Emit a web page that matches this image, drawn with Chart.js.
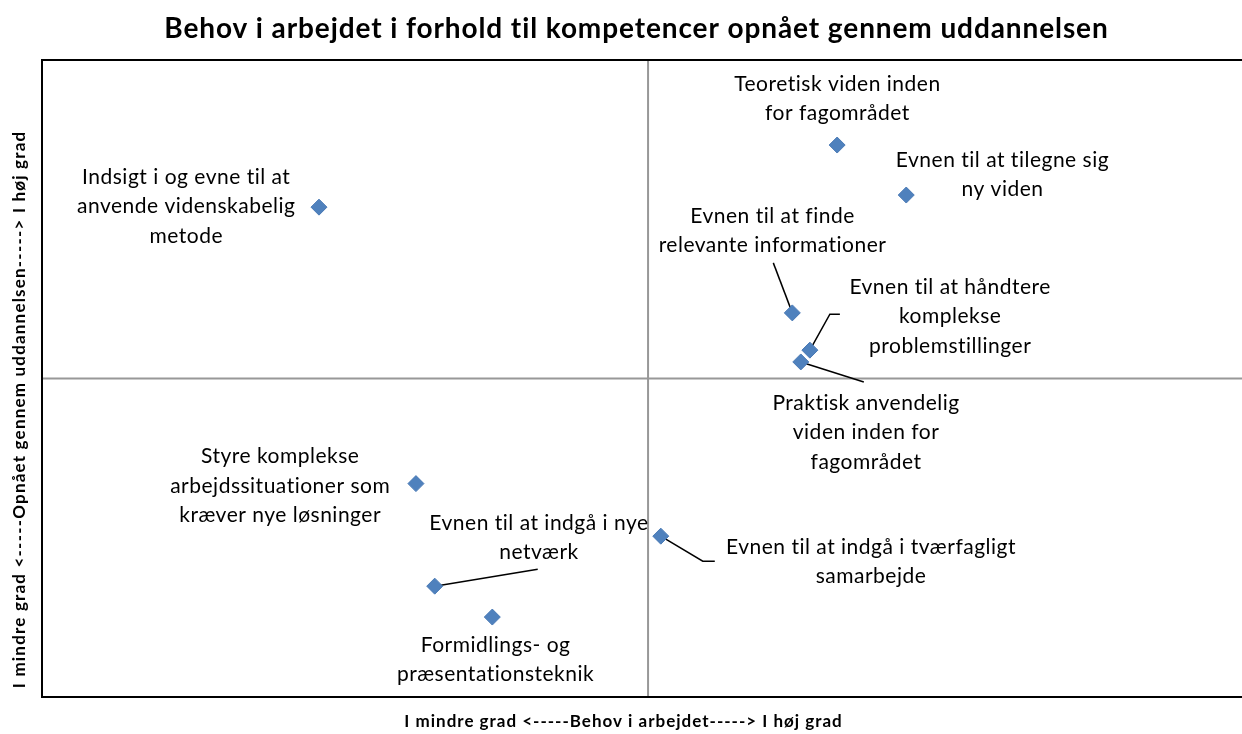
<!DOCTYPE html>
<html>
<head>
<meta charset="utf-8">
<script src="https://cdn.jsdelivr.net/npm/chart.js@4.4.0/dist/chart.umd.min.js"></script>
<style>
  html, body { margin: 0; padding: 0; background: #fff; overflow: hidden; }
  #wrap { width: 1242px; height: 734px; }
</style>
</head>
<body>
<div id="wrap"><canvas id="myChart" width="1242" height="734"></canvas></div>
<script>
// data
var chartTitle = 'Behov i arbejdet i forhold til kompetencer opnået gennem uddannelsen';
var xTitle = 'I mindre grad <-----Behov i arbejdet-----> I høj grad';
var yTitle = 'I mindre grad <-----Opnået gennem uddannelsen-----> I høj grad';

var labels = [
    ['Teoretisk viden inden', 'for fagområdet'],
    ['Evnen til at tilegne sig', 'ny viden'],
    ['Indsigt i og evne til at', 'anvende videnskabelig', 'metode'],
    ['Evnen til at finde', 'relevante informationer'],
    ['Evnen til at håndtere', 'komplekse', 'problemstillinger'],
    ['Praktisk anvendelig', 'viden inden for', 'fagområdet'],
    ['Styre komplekse', 'arbejdssituationer som', 'kræver nye løsninger'],
    ['Evnen til at indgå i tværfagligt', 'samarbejde'],
    ['Evnen til at indgå i nye', 'netværk'],
    ['Formidlings- og', 'præsentationsteknik']
];
var behovValues = [0.312, 0.426, -0.543, 0.238, 0.267, 0.252, -0.383, 0.021, -0.352, -0.257];
var opnaaetValues = [0.733, 0.576, 0.538, 0.206, 0.089, 0.052, -0.330, -0.495, -0.652, -0.749];

// label placement (pixels relative to the point): centre x, first line y, leader line points
var labelPlace = [
    { dx: 0, dy: -61, leader: null },
    { dx: 96, dy: -35, leader: null },
    { dx: -133, dy: -30, leader: null },
    { dx: -20, dy: -97, leader: [[-19, -50]] },
    { dx: 140, dy: -63, leader: [[20, -36], [30, -36]] },
    { dx: 65, dy: 41, leader: [[63, 20]] },
    { dx: -136, dy: -27, leader: null },
    { dx: 210, dy: 11, leader: [[42, 25], [54, 25]] },
    { dx: 104, dy: -63, leader: [[103, -17]] },
    { dx: 3, dy: 28, leader: null }
];

var points = behovValues.map(function (v, i) {
    return { x: v, y: opnaaetValues[i] };
});

function drawText(ctx, text, x, y, font, spacing) {
    ctx.font = font;
    ctx.letterSpacing = spacing + 'px';
    ctx.fillText(text, x + spacing / 2, y);
}

var quadrantPlugin = {
    id: 'quadrant',
    beforeDatasetsDraw: function (chart) {
        var ctx = chart.ctx;
        var area = chart.chartArea;
        var x0 = chart.scales.x.getPixelForValue(0);
        var y0 = chart.scales.y.getPixelForValue(0);
        ctx.save();
        ctx.strokeStyle = '#989898';
        ctx.lineWidth = 2;
        ctx.beginPath();
        ctx.moveTo(x0, area.top);
        ctx.lineTo(x0, area.bottom);
        ctx.moveTo(area.left, y0);
        ctx.lineTo(area.right, y0);
        ctx.stroke();

        // frame (right side runs off the picture)
        ctx.strokeStyle = '#000';
        ctx.lineWidth = 2;
        ctx.beginPath();
        ctx.moveTo(area.right + 5, area.top);
        ctx.lineTo(area.left, area.top);
        ctx.lineTo(area.left, area.bottom);
        ctx.lineTo(area.right + 5, area.bottom);
        ctx.stroke();

        // leader lines
        var meta = chart.getDatasetMeta(0);
        ctx.strokeStyle = '#000';
        ctx.lineWidth = 1.5;
        meta.data.forEach(function (pt, i) {
            var lp = labelPlace[i];
            if (!lp.leader) return;
            ctx.beginPath();
            ctx.moveTo(pt.x, pt.y);
            lp.leader.forEach(function (p) {
                ctx.lineTo(pt.x + p[0], pt.y + p[1]);
            });
            ctx.stroke();
        });
        ctx.restore();
    },
    afterDatasetsDraw: function (chart) {
        var ctx = chart.ctx;
        var meta = chart.getDatasetMeta(0);
        ctx.save();
        ctx.fillStyle = '#000';
        ctx.textAlign = 'center';
        ctx.textBaseline = 'middle';
        meta.data.forEach(function (pt, i) {
            var lp = labelPlace[i];
            labels[i].forEach(function (line, j) {
                drawText(ctx, line, pt.x + lp.dx, pt.y + lp.dy + j * 29.5, '21px Lato', 0.5);
            });
        });

        // titles
        drawText(ctx, chartTitle, 636, 29, 'bold 28px Lato', 0.9);
        drawText(ctx, xTitle, 623, 722, 'bold 17px Lato', 1);
        ctx.translate(20, 410);
        ctx.rotate(-Math.PI / 2);
        drawText(ctx, yTitle, 0, 0, 'bold 17px Lato', 1.2);
        ctx.restore();
    }
};

var ctx = document.getElementById('myChart').getContext('2d');
var myChart = new Chart(ctx, {
    type: 'scatter',
    data: {
        datasets: [{
            data: points,
            pointStyle: 'rectRot',
            pointRadius: 8,
            pointHoverRadius: 8,
            backgroundColor: '#4f81bd',
            borderColor: '#4a7ab5',
            borderWidth: 1
        }]
    },
    options: {
        responsive: false,
        animation: false,
        layout: {
            autoPadding: false,
            padding: { left: 42, top: 60, right: 0, bottom: 37 }
        },
        plugins: {
            legend: { display: false },
            tooltip: { enabled: false }
        },
        scales: {
            x: { display: false, min: -1, max: 0.98 },
            y: { display: false, min: -1, max: 1 }
        }
    },
    plugins: [quadrantPlugin]
});
</script>
</body>
</html>
